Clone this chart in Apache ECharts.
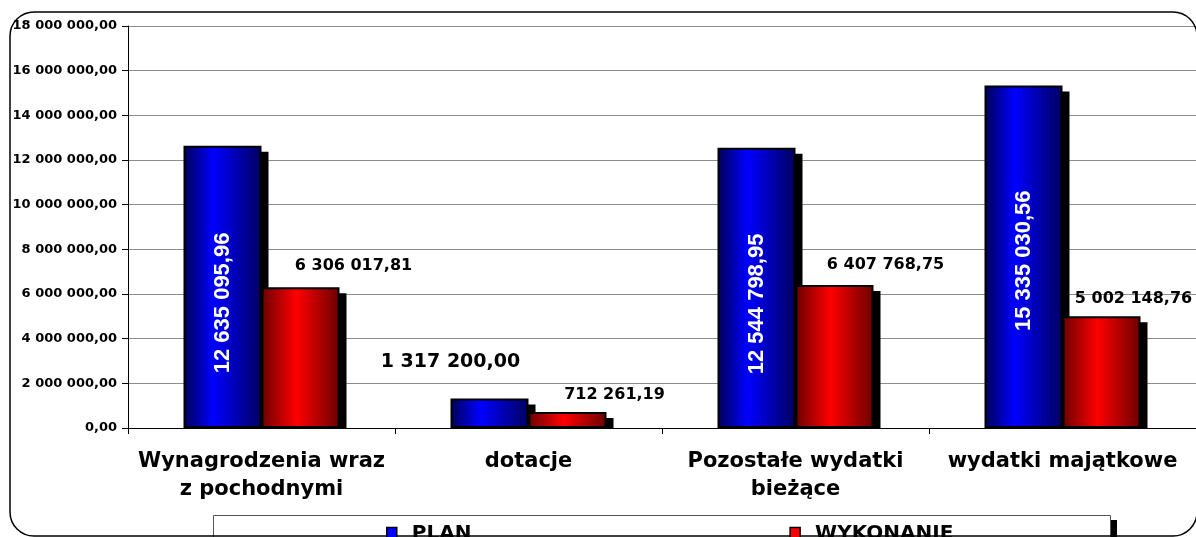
<!DOCTYPE html>
<html>
<head>
<meta charset="utf-8">
<script src="https://cdn.jsdelivr.net/npm/echarts@6/dist/echarts.min.js"></script>
<style>
html,body{margin:0;padding:0;background:#fff;}
#c{width:1196px;height:537px;}
</style>
</head>
<body>
<div id="c"></div>
<script>
const categories = ['Wynagrodzenia wraz\nz pochodnymi', 'dotacje', 'Pozostałe wydatki\nbieżące', 'wydatki majątkowe'];
const planValues = [12635095.96, 1317200.00, 12544798.95, 15335030.56];
const wykonanieValues = [6306017.81, 712261.19, 6407768.75, 5002148.76];
const seriesNames = ['PLAN', 'WYKONANIE'];
const yTicks = [0, 2000000, 4000000, 6000000, 8000000, 10000000, 12000000, 14000000, 16000000, 18000000];

function fmt(v) {
  const parts = v.toFixed(2).split('.');
  const intPart = parts[0].replace(/\B(?=(\d{3})+(?!\d))/g, ' ');
  return intPart + ',' + parts[1];
}

const FONT = '"Liberation Sans", Arial, sans-serif';
const WIDE = '"DejaVu Sans", sans-serif';
const BAR_W = 78;

const blueGrad = new echarts.graphic.LinearGradient(0, 0, 1, 0, [
  {offset: 0, color: '#000055'},
  {offset: 0.38, color: '#0000ff'},
  {offset: 1, color: '#000060'}
]);
const redGrad = new echarts.graphic.LinearGradient(0, 0, 1, 0, [
  {offset: 0, color: '#6a0000'},
  {offset: 0.45, color: '#ff0000'},
  {offset: 1, color: '#6a0000'}
]);

// label placement (style only)
const planLabelOffsets = [[-16, 0], null, [-16, 0], [-4, 0]];
const redOffsets = [[53, -8], [47, -4], [51, -7], [32, -4]];

const planData = planValues.map((v, i) => {
  if (i === 1) {
    return {value: v, label: {position: 'top', rotate: 0, color: '#000', fontFamily: WIDE, fontSize: 19, offset: [-39, -22]}};
  }
  return {value: v, label: {offset: planLabelOffsets[i]}};
});
const wykData = wykonanieValues.map((v, i) => ({value: v, label: {offset: redOffsets[i]}}));

function shadowRenderer(side) {
  return function (params, api) {
    const i = api.value(0);
    const v = api.value(1);
    const top = api.coord([i, v]);
    const base = api.coord([i, 0]);
    const x = side === 0 ? top[0] - BAR_W : top[0];
    return {
      type: 'rect',
      shape: {x: x + 7, y: top[1] + 6, width: BAR_W, height: Math.max(0, base[1] - top[1] - 5)},
      style: {fill: '#000'}
    };
  };
}

const chart = echarts.init(document.getElementById('c'), null, {renderer: 'canvas'});
chart.setOption({
  animation: false,
  backgroundColor: '#fff',
  textStyle: {fontFamily: FONT},
  grid: {left: 128, top: 26, bottom: 109, right: -4, containLabel: false},
  legend: {
    top: 524,
    left: 386,
    z: 200,
    itemGap: 318,
    itemWidth: 10,
    itemHeight: 13,
    icon: 'rect',
    padding: 0,
    data: [
      {name: seriesNames[0], itemStyle: {color: '#0000ff', borderColor: '#000', borderWidth: 1.5}},
      {name: seriesNames[1], itemStyle: {color: '#ff0000', borderColor: '#000', borderWidth: 1.5}}
    ],
    textStyle: {fontFamily: WIDE, fontWeight: 'bold', fontSize: 20, color: '#000', padding: [0, 0, 0, 10]}
  },
  xAxis: {
    type: 'category',
    data: categories,
    axisLine: {lineStyle: {color: '#000', width: 1}},
    axisTick: {show: true, length: 6, lineStyle: {color: '#000'}},
    axisLabel: {color: '#000', fontFamily: WIDE, fontWeight: 'bold', fontSize: 21, lineHeight: 28, margin: 20, interval: 0}
  },
  yAxis: {
    type: 'value',
    min: 0,
    max: 18000000,
    interval: 2000000,
    axisLine: {show: true, lineStyle: {color: '#000', width: 1}},
    axisTick: {show: true, length: 6, lineStyle: {color: '#000'}},
    splitLine: {lineStyle: {color: '#8c8c8c', width: 1}},
    axisLabel: {
      color: '#000', fontFamily: WIDE, fontWeight: 'bold', fontSize: 13, margin: 11,
      formatter: v => fmt(v)
    }
  },
  series: [
    {
      name: seriesNames[0] + '_shadow',
      type: 'custom',
      z: 1,
      silent: true,
      renderItem: shadowRenderer(0),
      encode: {x: 0, y: 1},
      data: planValues.map((v, i) => [i, v])
    },
    {
      name: seriesNames[1] + '_shadow',
      type: 'custom',
      z: 1,
      silent: true,
      renderItem: shadowRenderer(1),
      encode: {x: 0, y: 1},
      data: wykonanieValues.map((v, i) => [i, v])
    },
    {
      name: seriesNames[0],
      type: 'bar',
      z: 3,
      data: planData,
      barWidth: BAR_W,
      barGap: '0%',
      itemStyle: {color: blueGrad, borderColor: '#000', borderWidth: 2},
      label: {
        show: true, position: 'inside', rotate: 90, color: '#fff',
        fontFamily: FONT, fontWeight: 'bold', fontSize: 22,
        formatter: p => fmt(p.value)
      }
    },
    {
      name: seriesNames[1],
      type: 'bar',
      z: 3,
      data: wykData,
      barWidth: BAR_W,
      itemStyle: {color: redGrad, borderColor: '#000', borderWidth: 2},
      label: {
        show: true, position: 'top', color: '#000',
        fontFamily: WIDE, fontWeight: 'bold', fontSize: 16,
        formatter: p => fmt(p.value)
      }
    }
  ],
  graphic: [
    {
      type: 'rect', z: 100, silent: true,
      shape: {x: 10, y: 12, width: 1187, height: 524, r: 24},
      style: {fill: null, stroke: '#000', lineWidth: 1.5}
    },
    {
      type: 'rect', z: 90, silent: true,
      shape: {x: 1111, y: 520, width: 6, height: 30},
      style: {fill: '#000'}
    },
    {
      type: 'rect', z: 91, silent: true,
      shape: {x: 213.5, y: 515.5, width: 897, height: 40},
      style: {fill: '#fff', stroke: '#555', lineWidth: 1}
    }
  ]
});
</script>
</body>
</html>
